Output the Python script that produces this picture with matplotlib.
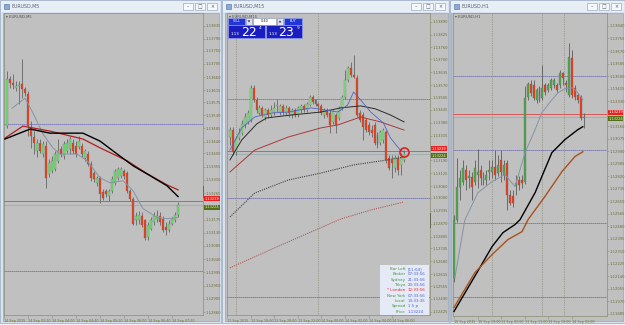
import matplotlib
matplotlib.use('Agg')
import matplotlib.pyplot as plt
from matplotlib.patches import Rectangle, Polygon
import numpy as np

# ---------------- data ----------------
# Left window: EURUSD,M5
left_open = [1.13493,1.13652,1.13639,1.13622,1.13629,1.13635,1.13618,1.13601,1.13486,1.13456,
             1.13408,1.13436,1.13398,1.13425,1.13331,1.13341,1.13348,1.13375,1.13415,1.13392,
             1.13408,1.13415,1.13436,1.13425,1.13422,1.13425,1.13385,1.13398,1.13365,1.13334,
             1.13300,1.13317,1.13270,1.13273,1.13256,1.13273,1.13300,1.13317,1.13324,1.13341,
             1.13334,1.13273,1.13246,1.13172,1.13172,1.13188,1.13172,1.13114,1.13144,1.13165,
             1.13178,1.13188,1.13178,1.13151,1.13141,1.13161,1.13172,1.13192]
left_high = [1.13679,1.13662,1.13672,1.13645,1.13645,1.13723,1.13625,1.13612,1.13510,1.13476,
             1.13449,1.13449,1.13442,1.13442,1.13381,1.13392,1.13408,1.13449,1.13425,1.13442,
             1.13449,1.13459,1.13449,1.13442,1.13459,1.13436,1.13415,1.13408,1.13375,1.13341,
             1.13324,1.13324,1.13280,1.13280,1.13280,1.13324,1.13348,1.13354,1.13354,1.13348,
             1.13341,1.13280,1.13253,1.13199,1.13205,1.13199,1.13178,1.13165,1.13182,1.13199,
             1.13209,1.13199,1.13188,1.13165,1.13172,1.13185,1.13199,1.13236]
left_low = [1.13486,1.13622,1.13618,1.13612,1.13568,1.13588,1.13595,1.13459,1.13419,1.13398,
            1.13388,1.13402,1.13388,1.13283,1.13320,1.13334,1.13341,1.13368,1.13388,1.13381,
            1.13402,1.13398,1.13398,1.13388,1.13415,1.13388,1.13375,1.13358,1.13307,1.13304,
            1.13290,1.13232,1.13243,1.13253,1.13239,1.13266,1.13293,1.13310,1.13317,1.13314,
            1.13266,1.13239,1.13155,1.13155,1.13161,1.13148,1.13104,1.13107,1.13138,1.13158,
            1.13165,1.13155,1.13131,1.13121,1.13134,1.13155,1.13165,1.13185]
left_close = [1.13652,1.13639,1.13632,1.13629,1.13632,1.13618,1.13605,1.13493,1.13459,1.13436,
              1.13436,1.13408,1.13432,1.13317,1.13368,1.13375,1.13398,1.13408,1.13398,1.13432,
              1.13436,1.13449,1.13408,1.13398,1.13442,1.13398,1.13408,1.13365,1.13317,1.13314,
              1.13317,1.13263,1.13249,1.13263,1.13273,1.13314,1.13341,1.13348,1.13348,1.13324,
              1.13273,1.13246,1.13161,1.13188,1.13192,1.13155,1.13111,1.13155,1.13172,1.13188,
              1.13188,1.13165,1.13138,1.13138,1.13161,1.13178,1.13192,1.13224]
left_fast_x = [1.7, 6, 8.7, 12, 15.3, 17.7, 23.3, 26.7, 31, 34.3, 38.7, 42, 45.3, 50, 53.3, 57]
left_fast = [1.13554,1.13588,1.13537,1.13466,1.13419,1.13398,1.13398,1.13375,1.13317,1.13300,
             1.13307,1.13273,1.13212,1.13182,1.13178,1.13182]
left_red_x = [-0.7, 5.3, 14.3, 25.3, 31, 40, 46.7, 53.3, 57]
left_red = [1.13452,1.13493,1.13476,1.13449,1.13419,1.13375,1.13331,1.13293,1.13276]
left_black_x = [-0.7, 7.7, 14.3, 25.3, 31, 36.7, 42, 47.7, 53.3, 57]
left_black = [1.13449,1.13483,1.13469,1.13469,1.13442,1.13398,1.13358,1.13324,1.13290,1.13253]
left_levels = [1.13500, 1.13000]
left_yticks = [1.13835,1.13790,1.13750,1.13705,1.13660,1.13615,1.13575,1.13530,1.13485,1.13440,
               1.13400,1.13355,1.13310,1.13265,1.13175,1.13130,1.13085,1.13040,1.12995,1.12950,
               1.12905,1.12860]
left_xticks = [-1, 7, 15, 23, 31, 39, 47, 55]
left_xlabels = ['14 Sep 2015','14 Sep 03:20','14 Sep 04:00','14 Sep 04:40','14 Sep 05:20',
                '14 Sep 06:00','14 Sep 06:40','14 Sep 07:20']

# Middle window: EURUSD,M15
mid_open = [1.13308,1.13343,1.13232,1.13303,1.13328,1.13369,1.13384,1.13394,1.13556,1.13495,
            1.13429,1.13455,1.13409,1.13444,1.13419,1.13434,1.13465,1.13434,1.13465,1.13429,
            1.13455,1.13419,1.13444,1.13419,1.13444,1.13465,1.13444,1.13470,1.13510,1.13495,
            1.13475,1.13465,1.13419,1.13444,1.13429,1.13384,1.13419,1.13404,1.13455,1.13510,
            1.13596,1.13657,1.13621,1.13606,1.13429,1.13419,1.13394,1.13369,1.13343,1.13369,
            1.13318,1.13278,1.13293,1.13333,1.13202,1.13192,1.13152,1.13202,1.13167,1.13192]
mid_high = [1.13359,1.13359,1.13313,1.13354,1.13394,1.13429,1.13444,1.13571,1.13571,1.13510,
            1.13470,1.13465,1.13455,1.13455,1.13470,1.13485,1.13500,1.13475,1.13475,1.13470,
            1.13465,1.13455,1.13455,1.13465,1.13475,1.13475,1.13485,1.13520,1.13520,1.13500,
            1.13485,1.13475,1.13455,1.13455,1.13444,1.13444,1.13429,1.13465,1.13520,1.13646,
            1.13667,1.13687,1.13722,1.13621,1.13444,1.13434,1.13404,1.13384,1.13369,1.13384,
            1.13333,1.13343,1.13354,1.13343,1.13217,1.13217,1.13217,1.13217,1.13227,1.13242]
mid_low = [1.13268,1.13217,1.13217,1.13293,1.13318,1.13354,1.13374,1.13384,1.13485,1.13429,
           1.13419,1.13409,1.13394,1.13404,1.13409,1.13419,1.13434,1.13419,1.13419,1.13419,
           1.13409,1.13404,1.13409,1.13409,1.13429,1.13434,1.13434,1.13465,1.13475,1.13465,
           1.13434,1.13419,1.13404,1.13409,1.13328,1.13374,1.13328,1.13394,1.13444,1.13500,
           1.13586,1.13611,1.13606,1.13409,1.13384,1.13293,1.13333,1.13318,1.13308,1.13268,
           1.13253,1.13268,1.13278,1.13177,1.13141,1.13101,1.13131,1.13116,1.13116,1.13182]
mid_close = [1.13343,1.13232,1.13303,1.13328,1.13374,1.13409,1.13429,1.13556,1.13495,1.13444,
             1.13455,1.13419,1.13444,1.13419,1.13444,1.13455,1.13470,1.13465,1.13434,1.13455,
             1.13429,1.13444,1.13419,1.13455,1.13465,1.13444,1.13475,1.13510,1.13485,1.13475,
             1.13465,1.13429,1.13444,1.13419,1.13369,1.13434,1.13369,1.13455,1.13510,1.13596,
             1.13657,1.13621,1.13611,1.13419,1.13394,1.13359,1.13343,1.13333,1.13328,1.13278,
             1.13268,1.13333,1.13343,1.13192,1.13152,1.13177,1.13202,1.13141,1.13202,1.13224]
mid_blue_x = [0, 4, 8.4, 14.1, 19.8, 27.5, 36.6, 39.9, 41.9, 44.3, 47.7, 52, 54.4, 57.7, 59]
mid_blue = [1.13242,1.13354,1.13409,1.13429,1.13434,1.13455,1.13434,1.13470,1.13535,1.13495,
            1.13434,1.13379,1.13303,1.13242,1.13232]
mid_black_x = [0, 4, 9.1, 12.4, 20.8, 30.9, 37.6, 44.3, 49.3, 54.4, 59]
mid_black = [1.13192,1.13293,1.13374,1.13404,1.13419,1.13434,1.13455,1.13465,1.13450,1.13419,1.13384]
mid_red_x = [0, 8.4, 19.8, 30.9, 36.6, 44.3, 51, 59]
mid_red = [1.13131,1.13242,1.13308,1.13354,1.13369,1.13409,1.13384,1.13343]
mid_slow_x = [0, 8.4, 19.8, 30.9, 41.9, 53.4, 59]
mid_slow = [1.12904,1.13025,1.13091,1.13126,1.13167,1.13192,1.13207]
mid_slowred_x = [0, 17.4, 37.6, 47.7, 59]
mid_slowred = [1.12647,1.12763,1.12894,1.12939,1.12980]
mid_levels = [1.13500, 1.13000, 1.12500]
mid_separators = [2, 30]
mid_yticks = [1.13890,1.13825,1.13760,1.13700,1.13635,1.13570,1.13505,1.13445,1.13380,1.13315,
              1.13190,1.13125,1.13060,1.13000,1.12935,1.12870,1.12805,1.12745,1.12680,1.12615,
              1.12555,1.12490,1.12425]
mid_xticks = [-1, 7, 15, 23, 31, 39, 47, 55]
mid_xlabels = ['11 Sep 2015','13 Sep 18:00','13 Sep 20:00','13 Sep 22:00','14 Sep 00:00',
               '14 Sep 02:00','14 Sep 04:00','14 Sep 06:00']
mid_marker = (59, 1.13232)
info_labels = ['Bar Left','Broker','Sydney','Tokyo','* London','New York','Local','Spread','Price']
info_values = ['[11:04]','07:33:56','21:33:56','20:33:56','12:33:56','07:33:56','13:33:35','1.5 p','1.13224']
lot_size = '0.40'
sell_quote = ('1.13', '22', '4')
buy_quote = ('1.13', '23', '9')

# Right window: EURUSD,H1
r_open = [1.12132,1.12525,1.12749,1.12783,1.12864,1.12810,1.12817,1.12783,1.12831,1.12864,
          1.12790,1.12797,1.12851,1.12851,1.12885,1.12844,1.12932,1.12831,1.12912,1.12695,
          1.12688,1.12763,1.12797,1.12797,1.12783,1.13359,1.13447,1.13441,1.13339,1.13420,
          1.13353,1.13441,1.13407,1.13420,1.13441,1.13441,1.13441,1.13522,1.13454,1.13373,
          1.13624,1.13420,1.13373,1.13359,1.13217]
r_high = [1.12559,1.12946,1.12864,1.12932,1.12898,1.12864,1.12851,1.12932,1.13007,1.12898,
          1.12851,1.12864,1.12932,1.12932,1.13000,1.12966,1.13000,1.12932,1.12932,1.12729,
          1.12729,1.12831,1.12824,1.12831,1.13434,1.13461,1.13475,1.13475,1.13420,1.13434,
          1.13576,1.13454,1.13454,1.13488,1.13488,1.13454,1.13542,1.13529,1.13475,1.13725,
          1.13678,1.13441,1.13386,1.13373,1.13251]
r_low = [1.12105,1.12512,1.12661,1.12763,1.12729,1.12742,1.12661,1.12763,1.12742,1.12763,
         1.12763,1.12763,1.12797,1.12810,1.12797,1.12824,1.12783,1.12797,1.12593,1.12627,
         1.12614,1.12695,1.12729,1.12742,1.12769,1.13339,1.13366,1.13339,1.13319,1.13325,
         1.13339,1.13373,1.13393,1.13407,1.13420,1.13393,1.13420,1.13441,1.13393,1.13359,
         1.13353,1.13339,1.13319,1.13203,1.13149]
r_close = [1.12525,1.12749,1.12810,1.12878,1.12797,1.12824,1.12749,1.12878,1.12851,1.12810,
           1.12810,1.12831,1.12864,1.12885,1.12831,1.12898,1.12851,1.12898,1.12695,1.12641,
           1.12641,1.12776,1.12763,1.12776,1.13353,1.13447,1.13386,1.13353,1.13407,1.13339,
           1.13420,1.13393,1.13441,1.13475,1.13475,1.13407,1.13522,1.13488,1.13441,1.13631,
           1.13373,1.13359,1.13339,1.13217,1.13224]
r_fast_x = [0.3, 3.7, 8.1, 12.9, 17.3, 20.7, 24.1, 27.5, 29.8, 33.2, 35.3, 37.6, 40.3, 42, 43.7]
r_fast = [1.12132,1.12525,1.12708,1.12783,1.12831,1.12749,1.12980,1.13136,1.13251,1.13339,
          1.13386,1.13414,1.13420,1.13386,1.13339]
r_black_x = [0, 7.8, 12.9, 16.6, 20.7, 22.4, 27.5, 33.2, 37.6, 42, 43.7]
r_black = [1.11902,1.12166,1.12342,1.12437,1.12492,1.12525,1.12708,1.12980,1.13068,1.13136,1.13156]
r_brown_x = [0, 7.1, 12.9, 18.3, 23.1, 25.1, 30.8, 36.6, 41, 43.7]
r_brown = [1.11929,1.12166,1.12288,1.12390,1.12444,1.12525,1.12681,1.12851,1.12953,1.12986]
r_levels = [1.13500, 1.13000, 1.12500, 1.12000]
r_separators = [13, 30, 37.3]
r_yticks = [1.13840,1.13755,1.13670,1.13585,1.13500,1.13415,1.13330,1.13160,1.13075,1.12990,
            1.12905,1.12820,1.12735,1.12650,1.12565,1.12480,1.12395,1.12310,1.12225,1.12140,
            1.12055,1.11970,1.11885]
r_xticks = [0, 8, 16, 24, 32, 40]
r_xlabels = ['10 Sep 2015','10 Sep 19:00','11 Sep 03:00','11 Sep 11:00','13 Sep 19:00','14 Sep 03:00']

bid, ask = 1.13224, 1.13239

# ---------------- figure ----------------
W, H = 625, 325
fig = plt.figure(figsize=(6.25, 3.25), dpi=100)
fig.patch.set_facecolor('#eef2f7')
bg = fig.add_axes([0, 0, 1, 1])
bg.set_xlim(0, W); bg.set_ylim(H, 0); bg.axis('off')

AXC = '#8c8f70'
LBL = '#6a6f3c'
GRAY = '#c0c0c0'


def window(x0, x1, title):
    bg.add_patch(Rectangle((x0, 0), x1 - x0, 323, fc='#d9e3ef', ec='#a3b3c9', lw=0.6))
    bg.add_patch(Rectangle((x0 + 1, 1), x1 - x0 - 2, 11, fc='#e8eef6', ec='none'))
    bg.add_patch(Rectangle((x0 + 3.5, 3.5), 5, 5, fc='#8aa8d8', ec='#4f6fa0', lw=0.4))
    bg.text(x0 + 11, 6.7, title, fontsize=3.4, color='#5a6274', va='center', ha='left')
    glyphs = ['\u2013', '\u25a1', '\u00d7']
    for k in range(3):
        bx = x1 - 38 + k * 12
        bg.add_patch(Rectangle((bx, 3), 10, 7, fc='#f5f8fc', ec='#8a9ab0', lw=0.4))
        bg.text(bx + 5, 6.6, glyphs[k], fontsize=3.4, color='#4a5568', ha='center', va='center')


def client(x0, x1):
    bg.add_patch(Rectangle((x0, 13), x1 - x0, 308, fc=GRAY, ec='#8a9ab0', lw=0.4))


window(0, 221, 'EURUSD,M5')
window(222, 449, 'EURUSD,M15')
window(450, 625, 'EURUSD,H1')
client(3, 219)
client(225, 448)
client(451, 623)


def px_axes(x0, y0, x1, y1):
    return fig.add_axes([x0 / W, 1 - y1 / H, (x1 - x0) / W, (y1 - y0) / H])


def setup(ax, xlim, ylim, yt, xt, xtl, name):
    ax.set_facecolor(GRAY)
    ax.set_xlim(*xlim); ax.set_ylim(*ylim)
    ax.yaxis.tick_right()
    ax.set_yticks(yt)
    ax.set_yticklabels([f'{v:.5f}' for v in yt])
    ax.set_xticks(xt)
    ax.set_xticklabels(xtl, ha='left')
    ax.tick_params(axis='y', labelsize=2.7, length=1.2, width=0.4, pad=0.6,
                   color=AXC, labelcolor=LBL)
    ax.tick_params(axis='x', labelsize=2.4, length=2.2, width=0.4, pad=0.5,
                   color=AXC, labelcolor=LBL)
    for s in ax.spines.values():
        s.set_color(AXC); s.set_linewidth(0.5)
    ax.text(0.012, 0.995, '\u25be ' + name, transform=ax.transAxes, fontsize=2.7,
            color='#505050', va='top', ha='left')


def candles(ax, o, h, l, c, up, dn, wick, minh):
    o = np.array(o); h = np.array(h); l = np.array(l); c = np.array(c)
    x = np.arange(len(o))
    ax.vlines(x, l, h, color=wick, lw=0.6, zorder=3)
    bull = c >= o
    bot = np.minimum(o, c)
    hh = np.maximum(np.abs(c - o), minh)
    ax.bar(x[bull], hh[bull], bottom=bot[bull], width=0.66, color=up,
           edgecolor=wick, lw=0.2, zorder=4)
    ax.bar(x[~bull], hh[~bull], bottom=bot[~bull], width=0.66, color=dn,
           edgecolor=wick, lw=0.2, zorder=4)


def price_tags(ax):
    ax.axhline(ask, color='#e04848', lw=0.6, zorder=2)
    ax.axhline(bid, color='#98aeb0', lw=0.6, zorder=2)
    tr = ax.get_yaxis_transform()
    ax.text(1.008, ask, f'{ask:.5f}', transform=tr, fontsize=2.6, color='white',
            va='bottom', ha='left', clip_on=False, zorder=6,
            bbox=dict(boxstyle='square,pad=0.12', fc='#e82020', ec='none'))
    ax.text(1.008, bid, f'{bid:.5f}', transform=tr, fontsize=2.6, color='#e8f0c0',
            va='top', ha='left', clip_on=False, zorder=6,
            bbox=dict(boxstyle='square,pad=0.12', fc='#56701a', ec='none'))


def levels(ax, vals):
    for v in vals:
        ax.axhline(v, color='#2a2ab8', lw=0.6, ls=(0, (1, 1.4)), zorder=1)


# ---- left panel ----
axL = px_axes(4, 13, 203, 315)
setup(axL, (-1, 65.3), (1.12850, 1.13878), left_yticks, left_xticks, left_xlabels, 'EURUSD,M5')
levels(axL, left_levels)
candles(axL, left_open, left_high, left_low, left_close, '#6ee06e', '#e8401c', '#666666', 0.00003)
axL.plot(left_fast_x, left_fast, color='#8494a6', lw=0.7, zorder=5)
axL.plot(left_red_x, left_red, color='#b42020', lw=0.9, zorder=5)
axL.plot(left_black_x, left_black, color='#000000', lw=1.0, zorder=5)
price_tags(axL)

# ---- middle panel ----
axM = px_axes(227, 13, 430, 315)
setup(axM, (-0.34, 67.8), (1.12409, 1.13934), mid_yticks, mid_xticks, mid_xlabels, 'EURUSD,M15')
levels(axM, mid_levels)
for s in mid_separators:
    axM.axvline(s, color='#7a7a60', lw=0.5, ls=(0, (1, 1.5)), zorder=1)
candles(axM, mid_open, mid_high, mid_low, mid_close, '#80e080', '#e8401c', '#666666', 0.00005)
axM.plot(mid_slowred_x, mid_slowred, color='#b05a5a', lw=0.8, ls=(0, (1, 1)), zorder=5)
axM.plot(mid_slow_x, mid_slow, color='#404040', lw=0.8, ls=(0, (1, 1)), zorder=5)
axM.plot(mid_red_x, mid_red, color='#a83a3a', lw=0.7, zorder=5)
axM.plot(mid_black_x, mid_black, color='#2a2a2a', lw=0.7, zorder=5)
axM.plot(mid_blue_x, mid_blue, color='#5064c4', lw=0.6, zorder=5)
price_tags(axM)
axM.plot([mid_marker[0]], [mid_marker[1]], 'o', ms=6.5, mfc='none', mec='#e02020', mew=1.2, zorder=7)

# ---- right panel ----
axR = px_axes(453, 13, 607, 316)
setup(axR, (-0.34, 51.9), (1.11871, 1.13928), r_yticks, r_xticks, r_xlabels, 'EURUSD,H1')
levels(axR, r_levels)
for s in r_separators:
    axR.axvline(s, color='#7a7a60', lw=0.5, ls=(0, (1, 1.5)), zorder=1)
candles(axR, r_open, r_high, r_low, r_close, '#4caa4c', '#e8401c', '#5c5c5c', 0.00007)
axR.plot(r_fast_x, r_fast, color='#8494a8', lw=0.7, zorder=5)
axR.plot(r_black_x, r_black, color='#000000', lw=1.0, zorder=5)
axR.plot(r_brown_x, r_brown, color='#a8521c', lw=1.0, zorder=5)
price_tags(axR)

# ---- chrome details on background ----
bg.add_patch(Rectangle((202.3, 186), 1.6, 12, fc='#101010', ec='none', zorder=10))
bg.add_patch(Rectangle((429.3, 213), 1.6, 15, fc='#101010', ec='none', zorder=10))
bg.add_patch(Rectangle((605.3, 215), 1.6, 23, fc='#505050', ec='none', zorder=10))
for sx in (183, 409, 590):
    bg.add_patch(Polygon([(sx - 2, 13.3), (sx + 2, 13.3), (sx, 15.8)], closed=True,
                         fc='#6a7480', ec='none', zorder=10))

# one-click trading panel (middle window)
ov = fig.add_axes([0, 0, 1, 1]); ov.set_xlim(0, W); ov.set_ylim(H, 0); ov.axis('off')
ty = 18.0
ov.add_patch(Rectangle((228, ty), 17, 6.5, fc='#2236d8', ec='#9aa8f0', lw=0.4))
ov.text(236.5, ty + 3.4, 'SELL', fontsize=2.3, color='white', ha='center', va='center')
ov.add_patch(Rectangle((246, ty), 6, 6.5, fc='#dde2f0', ec='#8890b0', lw=0.4))
ov.add_patch(Polygon([(247.6, ty + 2.4), (250.4, ty + 2.4), (249, ty + 4.4)], closed=True,
                     fc='#303040', ec='none'))
ov.add_patch(Rectangle((253, ty), 23, 6.5, fc='#ffffff', ec='#8890b0', lw=0.4))
ov.text(264.5, ty + 3.4, lot_size, fontsize=2.5, color='#202020', ha='center', va='center')
ov.add_patch(Rectangle((277, ty), 6, 6.5, fc='#dde2f0', ec='#8890b0', lw=0.4))
ov.add_patch(Polygon([(278.6, ty + 4.4), (281.4, ty + 4.4), (280, ty + 2.4)], closed=True,
                     fc='#303040', ec='none'))
ov.add_patch(Rectangle((284, ty), 18, 6.5, fc='#2236d8', ec='#9aa8f0', lw=0.4))
ov.text(293, ty + 3.4, 'BUY', fontsize=2.3, color='white', ha='center', va='center')
for bx, q in ((228, sell_quote), (265.5, buy_quote)):
    ov.add_patch(Rectangle((bx, 25.2), 36.5, 13.3, fc='#1a1ec0', ec='#9aa8f0', lw=0.4))
    ov.text(bx + 3, 34.0, q[0], fontsize=3.0, color='white', ha='left', va='center')
    ov.text(bx + 13, 32.0, q[1], fontsize=9.0, color='white', ha='left', va='center')
    ov.text(bx + 31, 28.2, q[2], fontsize=3.2, color='white', ha='left', va='center')

# info box (middle window)
ov.add_patch(Rectangle((380, 265), 49, 49.5, fc='#e6eaf6', ec='none'))
for k, (lab, val) in enumerate(zip(info_labels, info_values)):
    yy = 269 + k * 5.35
    col_l = '#e02a2a' if lab.startswith('*') else '#3c9a3c'
    col_v = '#e02a2a' if lab.startswith('*') else '#4a64d0'
    ov.text(405.5, yy, lab, fontsize=2.9, color=col_l, ha='right', va='center')
    ov.text(408, yy, val, fontsize=2.9, color=col_v, ha='left', va='center')

fig.savefig('out.png', dpi=100, facecolor=fig.get_facecolor())
